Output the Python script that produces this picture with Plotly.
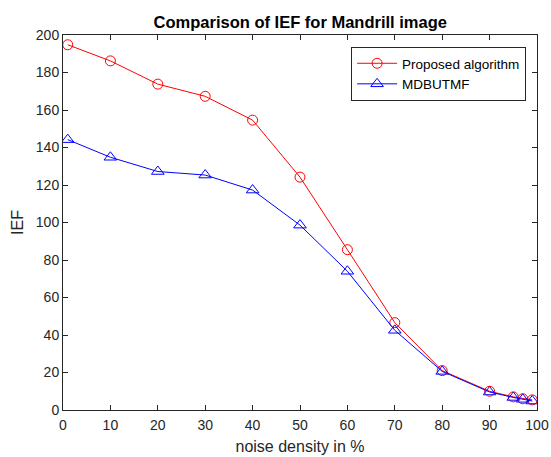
import plotly.graph_objects as go

noise = [1, 10, 20, 30, 40, 50, 60, 70, 80, 90, 95, 97, 99]
proposed = [194.8, 186.2, 173.8, 167.3, 154.6, 124.2, 85.5, 46.6, 21.0, 10.0, 7.0, 6.0, 5.4]
mdbutmf = [144.2, 134.8, 127.2, 125.3, 117.3, 98.6, 74.0, 42.5, 20.6, 9.6, 6.7, 5.7, 4.8]

x_ticks = list(range(0, 101, 10))
y_ticks = list(range(0, 201, 20))

FONT = "Liberation Sans, Arial, sans-serif"

fig = go.Figure()
fig.add_trace(go.Scatter(
    x=noise, y=proposed, mode="lines+markers", name="Proposed algorithm",
    line=dict(color="#ff0000", width=1),
    marker=dict(symbol="circle-open", size=10, color="#ff0000", line=dict(width=1)),
))
fig.add_trace(go.Scatter(
    x=noise, y=mdbutmf, mode="lines+markers", name="MDBUTMF",
    line=dict(color="#0000ff", width=1),
    marker=dict(symbol="triangle-up-open", size=11, color="#0000ff", line=dict(width=1)),
))

axis_common = dict(
    showline=True, linecolor="#262626", linewidth=1, mirror="allticks",
    ticks="inside", ticklen=5, tickcolor="#262626", showgrid=False, zeroline=False,
    automargin=False,
    tickfont=dict(family=FONT, size=14, color="#262626"),
)

fig.update_layout(
    width=551, height=457,
    margin=dict(l=63, r=14, t=35, b=47),
    paper_bgcolor="white", plot_bgcolor="white",
    title=dict(text="<b>Comparison of IEF for Mandrill image</b>", x=0.545, xanchor="center",
               y=1 - 22 / 457, yref="container", yanchor="middle",
               font=dict(family=FONT, size=16.5, color="black")),
    xaxis=dict(range=[0, 100], tickvals=x_ticks, ticklabelstandoff=2,
               title=dict(text="noise density in %", standoff=9,
                          font=dict(family=FONT, size=16, color="#262626")),
               **axis_common),
    yaxis=dict(range=[0, 200], tickvals=y_ticks,
               title=dict(text="IEF", standoff=8,
                          font=dict(family=FONT, size=16, color="#262626")),
               **axis_common),
    legend=dict(x=0.977, y=0.968, xanchor="right", yanchor="top",
                bordercolor="#262626", borderwidth=1, bgcolor="white",
                font=dict(family=FONT, size=13.5, color="black"),
                tracegroupgap=0, itemwidth=40),
    showlegend=True,
)

fig.write_html("out.html")
